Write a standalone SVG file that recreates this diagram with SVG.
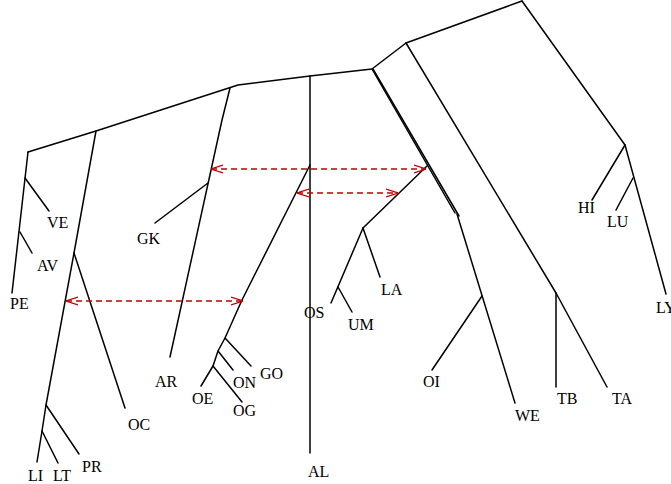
<svg xmlns="http://www.w3.org/2000/svg" width="671" height="484" viewBox="0 0 671 484">
  <style>
    .edge { fill: none; stroke: #000; stroke-width: 1.5; stroke-linecap: round; stroke-linejoin: round; }
    .link { fill: none; stroke: #c00000; stroke-width: 1.5; stroke-dasharray: 6 4; marker-start: url(#head); marker-end: url(#head); }
    .lbl { font-family: "Liberation Serif", "Times New Roman", serif; font-size: 16px; fill: #000; }
  </style>
  <defs>
    <marker id="head" viewBox="0 0 12 10" refX="12" refY="5" markerWidth="12" markerHeight="10" markerUnits="userSpaceOnUse" orient="auto-start-reverse">
      <path d="M0,1 L12,5 L0,9" fill="none" stroke="#c00000" stroke-width="1.3"/>
    </marker>
  </defs>
  <rect width="671" height="484" fill="#fff"/>

  <g id="connectors">
    <!-- backbone -->
    <polyline class="edge" points="28,152 96,131 238,85 310,76 372,69 406,43 522,1"/>
    <!-- right clade -->
    <line class="edge" x1="522" y1="1" x2="625" y2="145"/>
    <line class="edge" x1="625" y1="145" x2="592" y2="200"/>
    <line class="edge" x1="625" y1="145" x2="666" y2="294"/>
    <line class="edge" x1="633" y1="178" x2="616" y2="210"/>
    <!-- TB / TA -->
    <polyline class="edge" points="406,43 556,293 607,387"/>
    <line class="edge" x1="556" y1="293" x2="556" y2="387"/>
    <!-- doubled stem -->
    <line class="edge" x1="372" y1="69" x2="455" y2="213"/>
    <line class="edge" x1="373" y1="69" x2="459" y2="216"/>
    <!-- LA / OS / UM -->
    <line class="edge" x1="427" y1="166" x2="363" y2="228"/>
    <line class="edge" x1="363" y1="228" x2="380" y2="277"/>
    <line class="edge" x1="363" y1="228" x2="331" y2="303"/>
    <line class="edge" x1="338" y1="287" x2="352" y2="312"/>
    <!-- WE / OI -->
    <line class="edge" x1="457" y1="214" x2="515" y2="403"/>
    <line class="edge" x1="482" y1="296" x2="432" y2="370"/>
    <!-- AL -->
    <line class="edge" x1="310" y1="76" x2="310" y2="453"/>
    <!-- OE / ON / GO / OG -->
    <polyline class="edge" points="310,165 242,300 225,338 218,351 213,366 201,386"/>
    <line class="edge" x1="225" y1="338" x2="251" y2="366"/>
    <line class="edge" x1="218" y1="351" x2="233" y2="370"/>
    <line class="edge" x1="213" y1="366" x2="242" y2="402"/>
    <!-- GK / AR -->
    <polyline class="edge" points="230,88 222,120 170,357"/>
    <line class="edge" x1="208" y1="183" x2="155" y2="223"/>
    <!-- OC / PR / LI / LT -->
    <polyline class="edge" points="96,131 74,253 46,405 42,431 37,462"/>
    <line class="edge" x1="74" y1="253" x2="125" y2="408"/>
    <line class="edge" x1="46" y1="405" x2="79" y2="454"/>
    <line class="edge" x1="42" y1="431" x2="58" y2="463"/>
    <!-- PE / VE / AV -->
    <line class="edge" x1="28" y1="152" x2="12" y2="293"/>
    <line class="edge" x1="25" y1="178" x2="49" y2="211"/>
    <line class="edge" x1="20" y1="232" x2="32" y2="253"/>
    <!-- dashed links -->
    <line class="link" x1="211" y1="169" x2="426" y2="169"/>
    <line class="link" x1="297" y1="193" x2="398" y2="193"/>
    <line class="link" x1="66" y1="301" x2="243" y2="301"/>
  </g>

  <g id="VE"><text class="lbl" x="47" y="228">VE</text></g>
  <g id="AV"><text class="lbl" x="37" y="271">AV</text></g>
  <g id="PE"><text class="lbl" x="10" y="309">PE</text></g>
  <g id="GK"><text class="lbl" x="137" y="244">GK</text></g>
  <g id="LI"><text class="lbl" x="28" y="481">LI</text></g>
  <g id="LT"><text class="lbl" x="53" y="481">LT</text></g>
  <g id="PR"><text class="lbl" x="82" y="472">PR</text></g>
  <g id="OC"><text class="lbl" x="128" y="430">OC</text></g>
  <g id="AR"><text class="lbl" x="155" y="387">AR</text></g>
  <g id="OE"><text class="lbl" x="192" y="404">OE</text></g>
  <g id="ON"><text class="lbl" x="233" y="388">ON</text></g>
  <g id="GO"><text class="lbl" x="260" y="379">GO</text></g>
  <g id="OG"><text class="lbl" x="233" y="416">OG</text></g>
  <g id="AL"><text class="lbl" x="308" y="477">AL</text></g>
  <g id="OS"><text class="lbl" x="304" y="318">OS</text></g>
  <g id="UM"><text class="lbl" x="348" y="330">UM</text></g>
  <g id="LA"><text class="lbl" x="381" y="295">LA</text></g>
  <g id="OI"><text class="lbl" x="423" y="387">OI</text></g>
  <g id="WE"><text class="lbl" x="515" y="421">WE</text></g>
  <g id="TB"><text class="lbl" x="557" y="404">TB</text></g>
  <g id="TA"><text class="lbl" x="612" y="404">TA</text></g>
  <g id="HI"><text class="lbl" x="578" y="213">HI</text></g>
  <g id="LU"><text class="lbl" x="607" y="227">LU</text></g>
  <g id="LY"><text class="lbl" x="656" y="313">LY</text></g>
</svg>
